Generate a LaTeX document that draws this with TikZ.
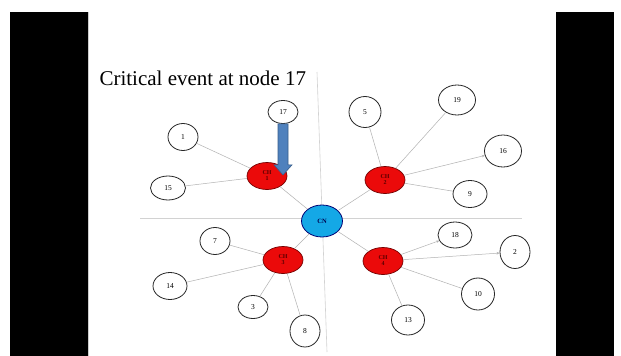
\documentclass[tikz,border=0pt]{standalone}
\usepackage{fontspec}
\setmainfont{Liberation Serif}
\usetikzlibrary{shapes.geometric,arrows.meta,calc}

\definecolor{cnblue}{RGB}{20,168,230}
\definecolor{chred}{RGB}{235,10,10}
\definecolor{evblue}{RGB}{79,129,189}
\definecolor{evedge}{RGB}{56,93,138}

\begin{document}
\begin{tikzpicture}[x=1pt, y=-1pt,
  member/.style={draw=black!85, line width=0.8pt, ellipse, fill=white, minimum width=32pt, minimum height=27pt, inner sep=0pt, font=\fontsize{7.5}{8}\selectfont},
  head/.style={draw=red!45!black, line width=0.7pt, ellipse, fill=chred, minimum width=40pt, minimum height=27pt, inner sep=0pt, align=center, text=red!35!black, font=\fontsize{6}{6}\selectfont\bfseries},
  sink/.style={draw=blue!45!black, line width=0.8pt, ellipse, fill=cnblue, minimum width=41pt, minimum height=32pt, inner sep=0pt, text=blue!30!black, font=\fontsize{6.5}{7}\selectfont\bfseries},
  link/.style={draw=gray!60, line width=0.5pt},
  tiplink/.style={link, -{Stealth[length=3pt,width=2.5pt]}},
  axis/.style={draw=gray!35, line width=0.6pt}
]
  \useasboundingbox (0,0) rectangle (621,356);
  % slide and side bars
  \fill[white] (0,0) rectangle (621,356);
  \fill[black] (10,12) rectangle (88,356);
  \fill[black] (556,12) rectangle (614,356);
  \draw[gray!40] (88,12) -- (88,356);

  % axes
  \draw[axis] (140,218) -- (522,218);
  \draw[axis] (317,72) -- (327,352);

  \node[anchor=base west, font=\fontsize{21}{24}\selectfont] (title) at (96,85) {Critical event at node 17};

  % cluster heads and sink
  \node[sink] (cn) at (322,221) {CN};
  \node[head] (ch1) at (267,176) {CH\\1};
  \node[head] (ch2) at (385,180) {CH\\2};
  \node[head] (ch3) at (283,260) {CH\\3};
  \node[head] (ch4) at (383,261) {CH\\4};

  % member nodes
  \node[member, minimum width=30pt, minimum height=23pt] (n17) at (283,112) {17};
  \node[member, minimum width=30pt] (n1) at (183,137) {1};
  \node[member, minimum width=35pt, minimum height=24pt] (n15) at (168,188) {15};
  \node[member, minimum height=31pt] (n5) at (365,112) {5};
  \node[member, minimum width=37pt, minimum height=30pt] (n19) at (457,100) {19};
  \node[member, minimum width=37pt, minimum height=32pt] (n16) at (503,151) {16};
  \node[member, minimum width=34pt] (n9) at (470,194) {9};
  \node[member, minimum width=30pt] (n7) at (215,241) {7};
  \node[member, minimum width=34pt] (n14) at (170,286) {14};
  \node[member, minimum width=30pt, minimum height=23pt] (n3) at (253,307) {3};
  \node[member, minimum width=30pt, minimum height=32pt] (n8) at (305,331) {8};
  \node[member, minimum width=34pt, minimum height=26pt] (n18) at (455,235) {18};
  \node[member, minimum width=30pt, minimum height=33pt] (n2) at (515,252) {2};
  \node[member, minimum width=33pt, minimum height=32pt] (n10) at (478,294) {10};
  \node[member, minimum width=33pt, minimum height=30pt] (n13) at (408,320) {13};

  % links
  \foreach \i in {ch1,ch2,ch3,ch4} \draw[link] (cn) -- (\i);
  \foreach \i/\j in {ch1/n1,ch1/n15,ch2/n5,ch2/n19,ch2/n9,ch3/n7,ch3/n14,ch3/n3,ch3/n8,ch4/n10,ch4/n13}
    \draw[link] (\i) -- (\j);
  \foreach \i/\j in {ch2/n16,ch4/n18,ch4/n2}
    \draw[tiplink] (\i) -- (\j);

  % event arrow
  \draw[evedge, fill=evblue, line width=0.6pt]
    ($(n17.south)+(-5,0)$) -- ($(n17.south)+(5,0)$) -- ($(n17.south)+(5,41)$)
    -- ($(n17.south)+(9,41)$) -- ($(n17.south)+(0,51)$) -- ($(n17.south)+(-9,41)$)
    -- ($(n17.south)+(-5,41)$) -- cycle;
\end{tikzpicture}
\end{document}
